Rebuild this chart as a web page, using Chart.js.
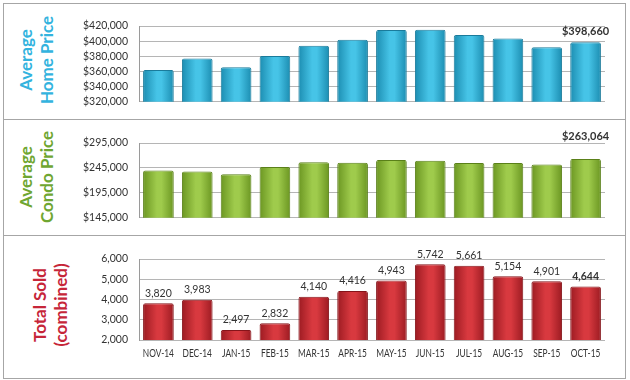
<!DOCTYPE html>
<html><head><meta charset="utf-8">
<script src="https://cdn.jsdelivr.net/npm/chart.js@4.4.0/dist/chart.umd.min.js"></script>
<style>
html,body{margin:0;padding:0;background:#fff;}
body{width:630px;height:380px;position:relative;overflow:hidden;font-family:Lato,sans-serif;}
.frame{position:absolute;left:3px;top:3px;width:621px;height:374px;border:1px solid #a6a6a6;}
.hline{position:absolute;left:3px;width:622px;height:1px;background:#a6a6a6;}
.cv{position:absolute;left:0;width:630px;}
.ttl{position:absolute;transform:translate(-50%,-50%) rotate(-90deg);white-space:nowrap;text-align:center;font-weight:bold;font-size:17px;line-height:21px;font-family:Lato,sans-serif;}
</style></head>
<body>
<div class="frame"></div>
<div class="hline" style="top:119px"></div>
<div class="hline" style="top:235px"></div>
<div class="ttl" style="left:36px;top:60px;color:#33b3de">Average<br>Home Price</div>
<div class="ttl" style="left:36px;top:177px;color:#6fa631">Average<br>Condo Price</div>
<div class="ttl" style="left:50px;top:305px;color:#c62639">Total Sold<br>(combined)</div>
<div class="cv" style="top:0;height:119px"><canvas id="c1"></canvas></div>
<div class="cv" style="top:119px;height:116px"><canvas id="c2"></canvas></div>
<div class="cv" style="top:235px;height:145px"><canvas id="c3"></canvas></div>
<script>
const months = ['NOV-14','DEC-14','JAN-15','FEB-15','MAR-15','APR-15','MAY-15','JUN-15','JUL-15','AUG-15','SEP-15','OCT-15'];
const homePrice = [362000,377000,365500,380500,394000,402000,414800,415000,408000,403500,392000,398660];
const condoPrice = [240000,238000,232500,247000,256500,255500,261000,259500,255000,255000,252000,263064];
const totalSold = [3820,3983,2497,2832,4140,4416,4943,5742,5661,5154,4901,4644];
const homeAxis = [320000,420000,20000];
const condoAxis = [145000,295000,50000];
const soldAxis = [2000,6000,1000];

const BAR_PCT = 0.79;
function fmt(v, prefix){
  return prefix + String(Math.round(v)).replace(/\B(?=(\d{3})+(?!\d))/g, ',');
}
function barFill(edge, mid){
  return function(ctx){
    const chart = ctx.chart;
    const xs = chart.scales && chart.scales.x;
    if(!xs || ctx.dataIndex === undefined || !xs.width) return mid;
    const cx = xs.getPixelForValue(ctx.dataIndex);
    const w = (xs.width / months.length) * BAR_PCT;
    const g = chart.ctx.createLinearGradient(cx - w/2, 0, cx + w/2, 0);
    g.addColorStop(0, edge); g.addColorStop(0.45, mid); g.addColorStop(0.6, mid); g.addColorStop(1, edge);
    return g;
  };
}
// value labels + (optionally) condensed category labels drawn at the x scale's positions
function labelPlugin(cfg){
  return {
    id: 'vl_' + Math.random().toString(36).slice(2),
    afterDraw(chart){
      const meta = chart.getDatasetMeta(0);
      const data = chart.data.datasets[0].data;
      const c = chart.ctx;
      c.save();
      c.textAlign = 'center'; c.textBaseline = 'middle';
      c.fillStyle = '#333';
      cfg.indices.forEach(i => {
        const el = meta.data[i];
        const bold = cfg.bold === i;
        c.font = (bold ? 'bold ' : '') + cfg.size + 'px Lato, sans-serif';
        const y = cfg.atTop ? chart.chartArea.top - cfg.offset : el.y - cfg.offset;
        c.fillText(fmt(data[i], cfg.prefix), el.x + (cfg.dx || 0), y);
      });
      if (cfg.cats) {
        const xs = chart.scales.x;
        const sx = 0.76;
        c.font = '11px Lato, sans-serif';
        c.fillStyle = '#333';
        const y = chart.chartArea.bottom + 13;
        chart.data.labels.forEach((lab, i) => {
          const px = xs.getPixelForValue(i);
          c.save();
          c.translate(px, y);
          c.scale(sx, 1);
          c.fillText(lab, 0, 0);
          c.restore();
        });
      }
      c.restore();
    }
  };
}
function makeChart(id, values, axis, colors, pad, labels, prefix){
  return new Chart(document.getElementById(id), {
    type: 'bar',
    data: { labels: months, datasets: [{
      data: values,
      backgroundColor: barFill(colors[0], colors[1]),
      borderColor: colors[2],
      borderWidth: 1,
      borderRadius: 2,
      borderSkipped: 'bottom',
      barPercentage: BAR_PCT,
      categoryPercentage: 1
    }]},
    options: {
      responsive: true, maintainAspectRatio: false, animation: false,
      layout: { padding: { left: 79, right: 25, top: pad[0], bottom: pad[1] } },
      plugins: { legend: { display: false }, tooltip: { enabled: false } },
      scales: {
        x: { display: false },
        y: {
          min: axis[0], max: axis[1],
          ticks: { stepSize: axis[2], color: '#333', font: { family: 'Lato', size: 10.5 }, padding: 11,
                   callback: v => fmt(v, prefix) },
          grid: { color: '#b5b5b5', drawTicks: false },
          border: { display: true, color: '#9a9a9a' },
          afterFit: s => { s.width = 60; }
        }
      }
    },
    plugins: [labelPlugin(labels)]
  });
}
makeChart('c1', homePrice, homeAxis, ['#1c8db1','#46c4e7','#1a7b9b'], [26,15],
  { indices: [11], bold: 11, size: 11, offset: 11, prefix: '$' }, '$');
makeChart('c2', condoPrice, condoAxis, ['#6b9622','#9fcb4c','#5a8019'], [24,10],
  { indices: [11], bold: 11, size: 11, atTop: true, offset: 7, prefix: '$' }, '$');
makeChart('c3', totalSold, soldAxis, ['#9c1b22','#d8393f','#85141a'], [24,40],
  { indices: [0,1,2,3,4,5,6,7,8,9,10,11], bold: 11, size: 10.5, offset: 10, prefix: '', cats: true }, '');
</script>
</body></html>
